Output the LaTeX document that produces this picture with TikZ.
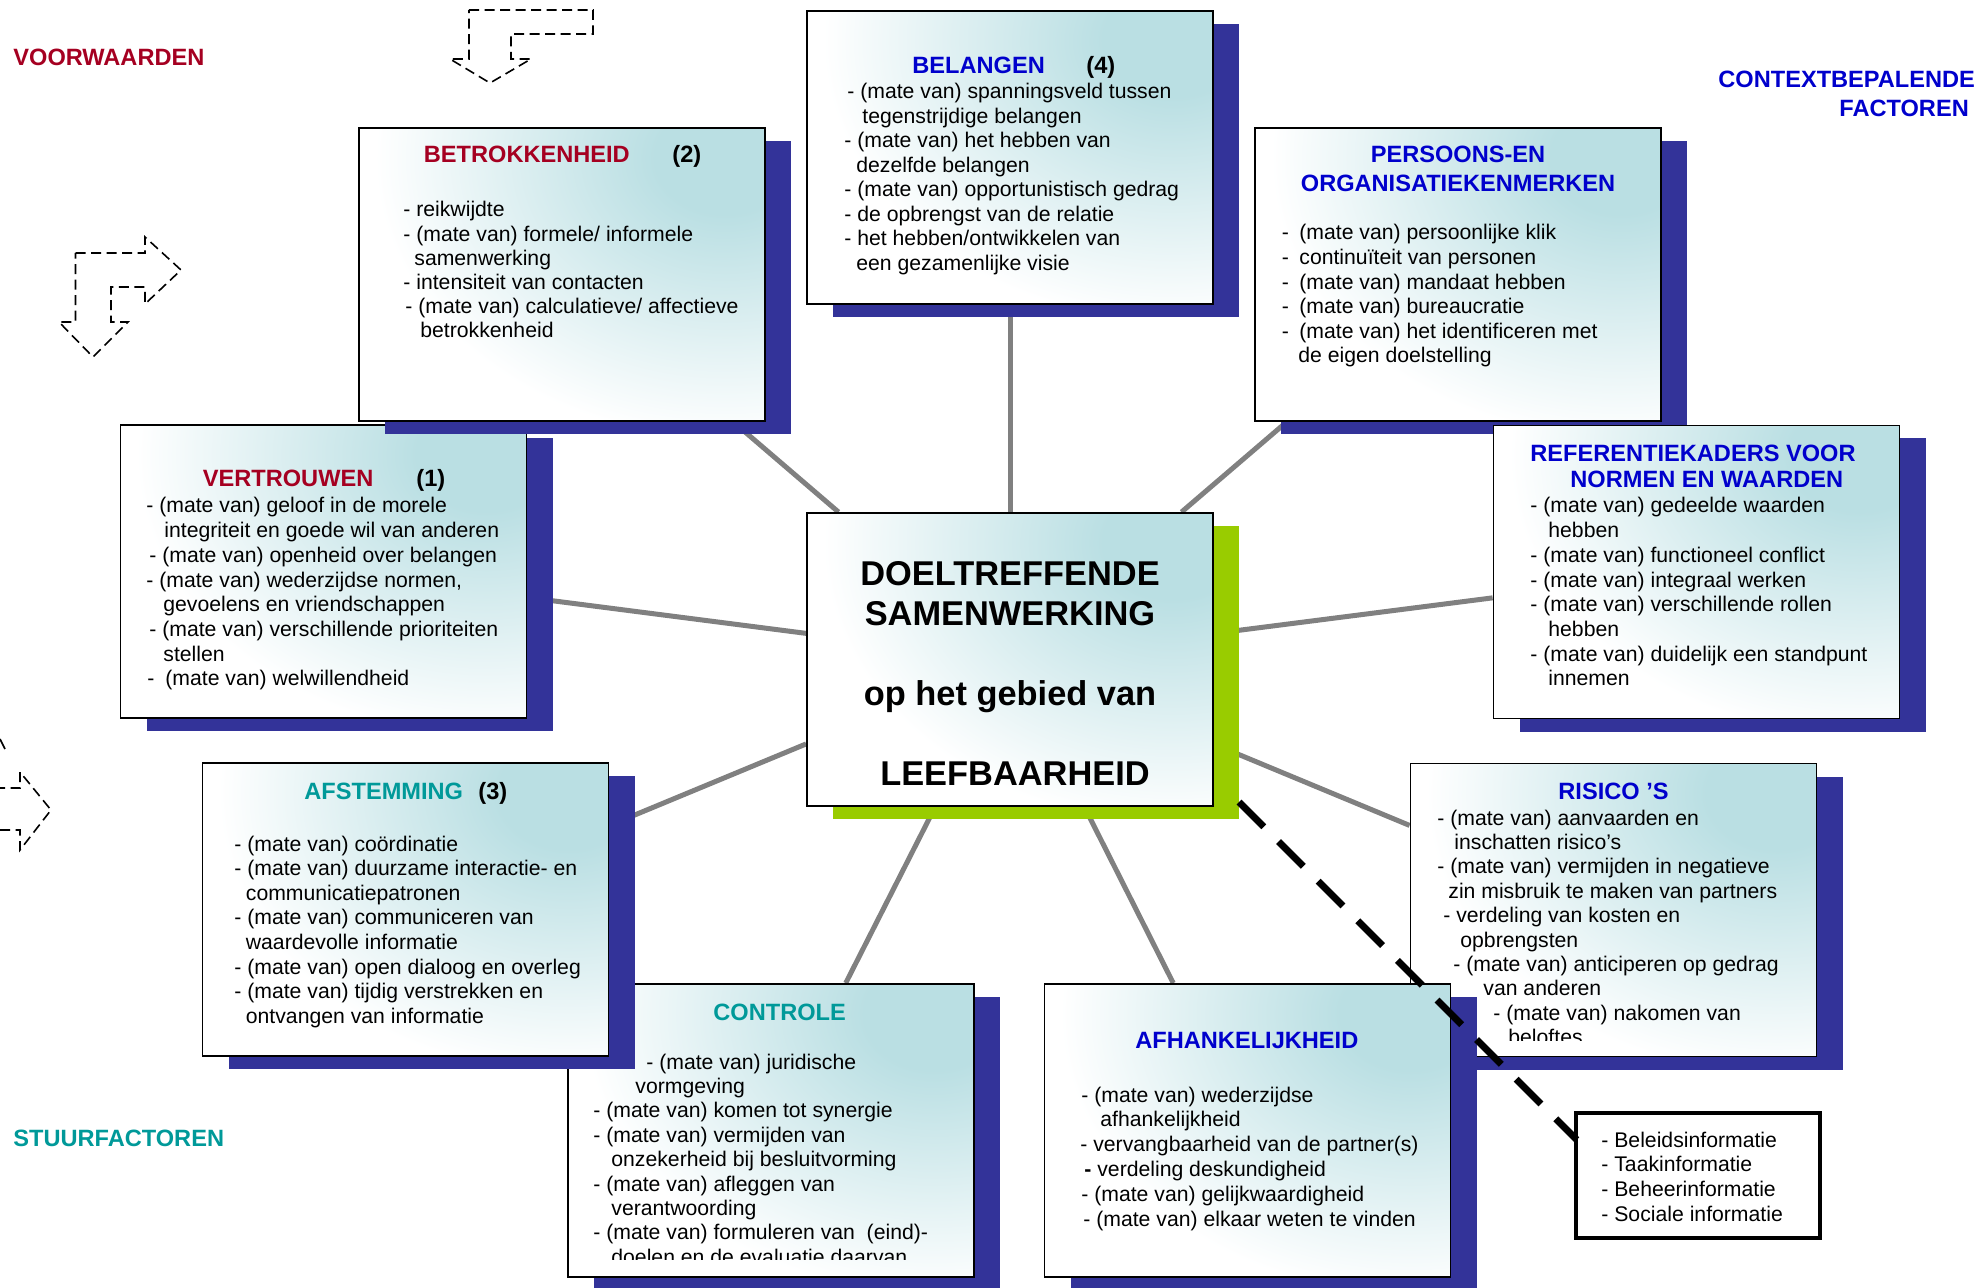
\documentclass[tikz,border=0pt]{standalone}
\usepackage{fontspec}
\setmainfont{Liberation Sans}
\usetikzlibrary{shadows}
\definecolor{tealc}{RGB}{186,223,227}
\definecolor{shadowc}{RGB}{51,51,153}
\definecolor{greenc}{RGB}{153,204,0}
\definecolor{redc}{RGB}{165,0,33}
\definecolor{bluec}{RGB}{0,0,204}
\definecolor{tealt}{RGB}{0,153,153}
\definecolor{connc}{RGB}{128,128,128}
\pgfdeclareradialshading{boxrad}{\pgfpointorigin}{color(0bp)=(tealc); color(2.5bp)=(tealc); color(12.5bp)=(white); color(50bp)=(white)}
\pgfdeclarelayer{bg}
\pgfsetlayers{bg,main}
\newdimen\pxu \pxu=0.5pt
\newcommand\tline[2]{\hbox{\kern#1\pxu\relax #2}}
\newcommand\dline[3]{\hbox{\kern#1\pxu\relax\rlap{-}\kern#2\pxu\relax #3}}
\newcommand\ctr[1]{\hbox to 0pt{\hss #1\hss}}
\newcommand\txtblock[2]{\vtop{\baselineskip=#1\pxu\relax\lineskiplimit=-\maxdimen\relax #2}}
\begin{document}
\begin{tikzpicture}[x=0.5pt,y=-0.5pt,
  fbox/.style={draw=black, line width=0.9pt, minimum width=203pt, minimum height=146.5pt,
    inner sep=0pt, fill=white,
    path picture={\shade[shading=boxrad] ([shift={(-40,30)}]path picture bounding box.north east) ellipse [x radius=350pt, y radius=280pt];},
    general shadow={fill=#1, shadow xshift=13pt, shadow yshift=-6.5pt}},
  fbox/.default=shadowc,
  body/.style={anchor=base west, inner sep=0pt, font=\fontsize{10.6}{12.25}\selectfont},
  head/.style={anchor=base west, inner sep=0pt, font=\fontsize{11.8}{14}\selectfont\bfseries},
  conn/.style={draw=connc, line width=2.5pt},
  dashline/.style={draw=black, line width=3.5pt, dash pattern=on 17.5pt off 10.5pt},
  darrow/.style={draw=black, line width=0.8pt, dash pattern=on 5pt off 2.75pt},
  infobox/.style={draw=black, line width=2.25pt, fill=white, minimum width=122pt, minimum height=62.5pt, inner sep=0pt}
]
\useasboundingbox (0,0) rectangle (1981,1288);

% ---------- VERTROUWEN
\node[fbox] (vert) at (323.5,571.5) {};
\node[head, text=redc] (verth) at (202.5,487) {VERTROUWEN};
\node[head] (vertn) at (416,487) {(1)};
\node[body] (vertt) at (120,513) {\txtblock{24.7}{%
\tline{26}{- (mate van) geloof in de morele}%
\tline{44}{integriteit en goede wil van anderen}%
\tline{29}{- (mate van) openheid over belangen}%
\tline{26}{- (mate van) wederzijdse normen,}%
\tline{43}{gevoelens en vriendschappen}%
\tline{29}{- (mate van) verschillende prioriteiten}%
\tline{43}{stellen}%
\dline{27}{18}{(mate van) welwillendheid}}};

% ---------- BETROKKENHEID
\node[fbox] (betr) at (562,274.5) {};
\node[head, text=redc] (betrh) at (423.5,163) {BETROKKENHEID};
\node[head] (betrn) at (672,163) {(2)};
\node[body] (betrt) at (359,217) {\txtblock{24.2}{%
\tline{44}{- reikwijdte}%
\tline{44}{- (mate van) formele/ informele}%
\tline{55}{samenwerking}%
\tline{44}{- intensiteit van contacten}%
\tline{46}{- (mate van) calculatieve/ affectieve}%
\tline{61}{betrokkenheid}}};

% ---------- BELANGEN
\node[fbox] (bel) at (1010,157.5) {};
\node[head, text=bluec] (belh) at (912,74) {BELANGEN};
\node[head] (beln) at (1086,74) {(4)};
\node[body] (belt) at (807,99) {\txtblock{24.45}{%
\tline{40}{- (mate van) spanningsveld tussen}%
\tline{55}{tegenstrijdige belangen}%
\tline{37}{- (mate van) het hebben van}%
\tline{49}{dezelfde belangen}%
\tline{37}{- (mate van) opportunistisch gedrag}%
\tline{37}{- de opbrengst van de relatie}%
\tline{37}{- het hebben/ontwikkelen van}%
\tline{49}{een gezamenlijke visie}}};

% ---------- PERSOONS
\node[fbox] (pers) at (1458,274.5) {};
\node[head, anchor=base, text=bluec] (persh) at (1458,163) {\txtblock{29}{\ctr{PERSOONS-EN}\ctr{ORGANISATIEKENMERKEN}}};
\node[body] (perst) at (1255,240) {\txtblock{24.6}{%
\dline{26.5}{17.5}{(mate van) persoonlijke klik}%
\dline{26.5}{17.5}{continuïteit van personen}%
\dline{26.5}{17.5}{(mate van) mandaat hebben}%
\dline{26.5}{17.5}{(mate van) bureaucratie}%
\dline{26.5}{17.5}{(mate van) het identificeren met}%
\tline{43}{de eigen doelstelling}}};

% ---------- REFERENTIEKADERS
\node[fbox] (ref) at (1696.5,572) {};
\node[head, text=bluec] (refh) at (1530,462) {\txtblock{26}{\tline{0}{REFERENTIEKADERS VOOR}\tline{40}{NORMEN EN WAARDEN}}};
\node[body] (reft) at (1494,513) {\txtblock{24.7}{%
\tline{36}{- (mate van) gedeelde waarden}%
\tline{54}{hebben}%
\tline{36}{- (mate van) functioneel conflict}%
\tline{36}{- (mate van) integraal werken}%
\tline{36}{- (mate van) verschillende rollen}%
\tline{54}{hebben}%
\tline{36}{- (mate van) duidelijk een standpunt}%
\tline{54}{innemen}}};

% ---------- CONTROLE
\node[fbox] (ctrl) at (771,1130.5) {};
\node[head, text=tealt] (ctrlh) at (713,1020) {CONTROLE};
\begin{scope}
\clip (568,984) rectangle (974,1259);
\node[body] (ctrlt) at (568,1069) {\txtblock{24.4}{%
\tline{78}{- (mate van) juridische}%
\tline{67}{vormgeving}%
\tline{25}{- (mate van) komen tot synergie}%
\tline{25}{- (mate van) vermijden van}%
\tline{43}{onzekerheid bij besluitvorming}%
\tline{25}{- (mate van) afleggen van}%
\tline{43}{verantwoording}%
\tline{25}{- (mate van) formuleren van~~(eind)-}%
\tline{43}{doelen en de evaluatie daarvan}}};
\end{scope}

% ---------- AFSTEMMING
\node[fbox] (afst) at (405.5,909.5) {};
\node[head, text=tealt] (afsth) at (304,799) {AFSTEMMING};
\node[head] (afstn) at (478,799) {(3)};
\node[body] (afstt) at (202,851) {\txtblock{24.6}{%
\tline{32}{- (mate van) coördinatie}%
\tline{32}{- (mate van) duurzame interactie- en}%
\tline{43.5}{communicatiepatronen}%
\tline{32}{- (mate van) communiceren van}%
\tline{43.5}{waardevolle informatie}%
\tline{32}{- (mate van) open dialoog en overleg}%
\tline{32}{- (mate van) tijdig verstrekken en}%
\tline{43.5}{ontvangen van informatie}}};

% ---------- RISICO'S
\node[fbox] (ris) at (1613.5,910) {};
\node[head, text=bluec] (rish) at (1558,799) {RISICO ’S};
\begin{scope}
\clip (1410,764) rectangle (1817,1040);
\node[body] (rist) at (1410,825) {\txtblock{24.4}{%
\tline{27}{- (mate van) aanvaarden en}%
\tline{44}{inschatten risico’s}%
\tline{27}{- (mate van) vermijden in negatieve}%
\tline{38}{zin misbruik te maken van partners}%
\tline{33}{- verdeling van kosten en}%
\tline{50}{opbrengsten}%
\tline{43}{- (mate van) anticiperen op gedrag}%
\tline{73}{van anderen}%
\tline{83}{- (mate van) nakomen van}%
\tline{98}{beloftes}}};
\end{scope}

% ---------- AFHANKELIJKHEID
\node[fbox] (afh) at (1247.5,1130.5) {};
\node[head, text=bluec] (afhh) at (1135,1048) {AFHANKELIJKHEID};
\node[body] (afht) at (1044,1102) {\txtblock{24.8}{%
\tline{37}{- (mate van) wederzijdse}%
\tline{56}{afhankelijkheid}%
\tline{36}{- vervangbaarheid van de partner(s)}%
\tline{40}{\textbf{-} verdeling deskundigheid}%
\tline{37}{- (mate van) gelijkwaardigheid}%
\tline{39}{- (mate van) elkaar weten te vinden}}};

% ---------- CENTRE
\node[fbox=greenc] (cen) at (1010,659.5) {};
\node[anchor=base, inner sep=0pt, font=\fontsize{17.2}{20}\selectfont\bfseries] (cent) at (1010,586)
  {\txtblock{40}{\ctr{DOELTREFFENDE}\ctr{SAMENWERKING}\ctr{}\ctr{op het gebied van}\ctr{}\ctr{\kern10\pxu LEEFBAARHEID}}};

% ---------- info box
\node[infobox] (info) at (1698,1175.5) {};
\node[body] (infot) at (1576,1147) {\txtblock{24.7}{%
\tline{25}{- Beleidsinformatie}%
\tline{25}{- Taakinformatie}%
\tline{25}{- Beheerinformatie}%
\tline{25}{- Sociale informatie}}};

% ---------- dashed link
\coordinate (dstart) at (1239,802);
\coordinate (dend) at ([shift={(3,29)}]info.north west);
\draw[dashline] (dstart) -- (dend);

% ---------- side labels
\node[head, text=redc] (voor) at (13,66) {VOORWAARDEN};
\node[head, text=bluec] (ctx) at (1718,88) {\txtblock{29}{\tline{0}{CONTEXTBEPALENDE}\tline{121}{FACTOREN}}};
\node[head, text=tealt] (stuur) at (13,1146) {STUURFACTOREN};

% ---------- dashed block arrows
\draw[darrow] (469,10) -- (593,10) -- (593,34) -- (511,34) -- (511,59) -- (531,59) -- (490,83) -- (450,59) -- (469,59) -- cycle;
\draw[darrow] (75.5,253) -- (145,253) -- (145,237) -- (181,270) -- (145,304) -- (145,287) -- (111,287) -- (111,322) -- (128,322) -- (93,357) -- (59,322) -- (75.5,322) -- cycle;
\draw[darrow] (-5,788) -- (20,788) -- (20,772) -- (51,810) -- (20,850) -- (20,830) -- (-5,830);
\draw[black, line width=0.8pt] (0,739) -- (5,749);

% ---------- connectors
\begin{pgfonlayer}{bg}
\draw[conn] (cen) -- (bel);
\draw[conn] (cen) -- (betr);
\draw[conn] (cen) -- (vert);
\draw[conn] (cen) -- (afst);
\draw[conn] (cen) -- (ctrl);
\draw[conn] (cen) -- (afh);
\draw[conn] (cen) -- (ris);
\draw[conn] (cen) -- (ref);
\draw[conn] (cen) -- (pers);
\end{pgfonlayer}
\end{tikzpicture}
\end{document}
